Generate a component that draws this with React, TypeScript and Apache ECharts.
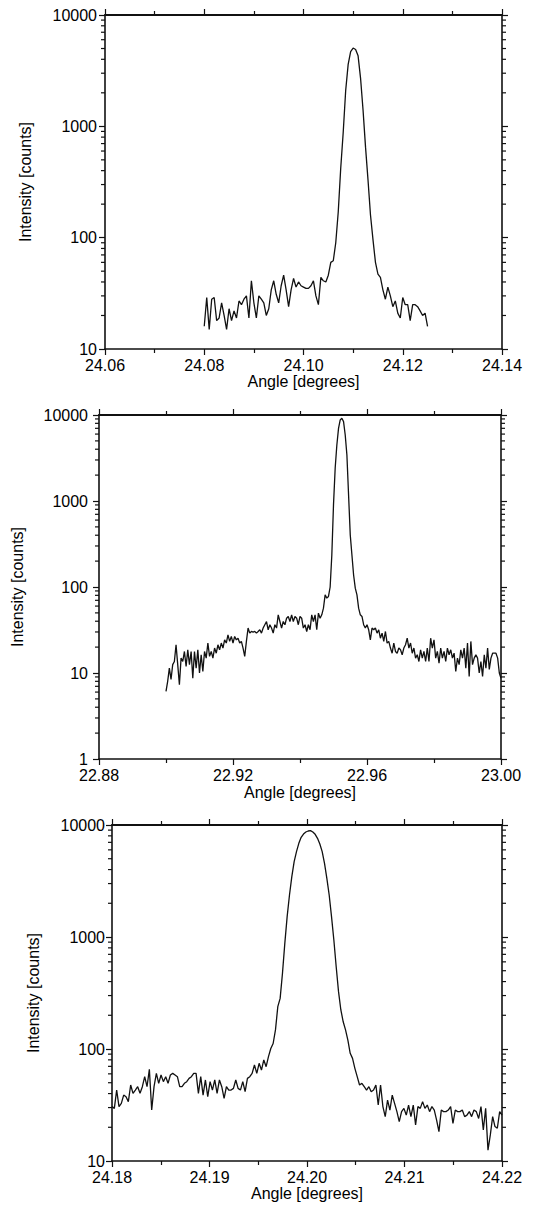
import React, { useEffect, useRef } from "react";
import * as echarts from "echarts";

// ---------- Data ----------
// Panel 1: angle 24.080 .. 24.125, step 0.0005
const P1_START = 24.08;
const P1_END = 24.125;
const P1_Y = [
  16, 29, 15, 28, 29, 18, 19, 26, 20, 15,
  23, 18, 22, 19, 27, 25, 28, 30, 19, 41,
  26, 19, 30, 28, 26, 20, 23, 34, 41, 31,
  26, 37, 46, 34, 24, 34, 43, 36, 40, 37,
  36, 35, 35, 37, 41, 30, 25, 44, 41, 40,
  46, 60, 62, 90, 170, 420, 880, 2100, 3600, 4700,
  5050, 4900, 4300, 2700, 1400, 650, 330, 160, 96, 60,
  47, 44, 34, 28, 36, 30, 24, 27, 21, 19,
  29, 25, 25, 18, 25, 25, 24, 22, 20, 21,
  16,
];

// Panel 2: angle 22.900 .. 23.000, step 0.0005
const P2_START = 22.9;
const P2_END = 23.0;
const P2_Y = [
  6.1, 8.0, 11.4, 8.4, 12.5, 13.6, 21.3, 12.5, 7.3, 14.9,
  13.6, 17.8, 11.9, 18.6, 12.5, 17.8, 8.7, 17.8, 11.4, 18.6,
  10.0, 16.3, 10.4, 17.8, 14.9, 22.3, 15.6, 17.8, 14.9, 19.5,
  17.0, 21.3, 18.6, 22.3, 19.5, 24.3, 22.3, 27.8, 23.3, 26.6,
  22.3, 26.6, 24.3, 25.4, 22.3, 23.3, 19.5, 15.6, 23.3, 33.3,
  29.1, 30.4, 29.9, 30.4, 29.1, 30.4, 31.8, 29.1, 33.3, 36.4,
  39.7, 31.8, 36.4, 33.3, 29.1, 36.4, 33.3, 47.5, 39.7, 33.3,
  39.7, 36.4, 43.4, 45.4, 39.7, 47.5, 39.7, 45.4, 43.4, 36.4,
  45.4, 43.4, 33.3, 36.4, 30.4, 36.4, 31.8, 47.5, 39.7, 47.5,
  31.8, 49.7, 43.4, 47.5, 56.8, 81, 74.2, 77.6, 100, 236,
  901, 2401, 4482, 7001, 8748, 9148, 8368, 5857, 3430, 1177,
  404, 236, 138, 97, 81, 56.8, 47.5, 45.4, 36.4, 33.3,
  36.4, 31.8, 24.3, 33.3, 31.8, 33.3, 29.1, 31.8, 25.4, 29.1,
  23.3, 30.4, 22.3, 23.3, 19.5, 17.0, 22.3, 17.8, 17.0, 19.5,
  18.6, 16.3, 19.5, 21.3, 25.4, 19.5, 22.3, 17.0, 19.5, 14.9,
  16.3, 13.6, 18.6, 14.9, 17.8, 13.6, 19.5, 13.6, 25.4, 19.5,
  24.3, 14.9, 17.8, 13.0, 19.5, 14.9, 17.8, 13.6, 19.5, 16.3,
  18.6, 14.9, 17.0, 10.4, 14.9, 12.5, 18.6, 14.9, 19.5, 11.4,
  22.3, 9.1, 23.3, 12.5, 14.9, 16.3, 14.9, 10.0, 13.6, 9.1,
  16.3, 11.4, 19.5, 11.0, 14.9, 17.0, 17.0, 17.0, 14.9, 10.0,
  8.7,
];

// Panel 3: angle 24.180 .. 24.220, evenly sampled
const P3_START = 24.18;
const P3_END = 24.22;
const P3_Y = [
  30.6, 29.5, 43.0, 30.6, 32.7, 38.8, 37.5, 33.9, 47.7, 40.2,
  43.0, 46.1, 40.2, 46.1, 56.6, 46.1, 65.8, 28.5, 46.1, 60.6,
  49.4, 58.6, 51.1, 56.6, 49.4, 58.6, 60.6, 58.6, 56.6, 46.1,
  46.1, 49.4, 51.1, 54.7, 56.6, 60.6, 60.6, 40.2, 56.6, 38.8,
  52.9, 37.5, 51.1, 43.0, 52.9, 40.2, 52.9, 46.1, 36.3, 46.1,
  43.0, 43.0, 44.5, 52.9, 44.5, 43.0, 51.1, 41.6, 54.7, 56.6,
  60.6, 72.0, 60.6, 74.5, 64.9, 79.8, 69.5, 85.4, 101, 112,
  148, 239, 283, 474, 878, 1519, 2371, 3457, 4706, 5779,
  6860, 7762, 8310, 8660, 8840, 8900, 8660, 8254, 7603, 6766,
  5779, 4548, 3341, 2371, 1519, 940, 543, 325, 223, 175,
  148, 120, 91.5, 82.5, 67.2, 56.6, 47.7, 49.4, 46.1, 43.0,
  46.1, 41.6, 43.0, 47.7, 31.6, 47.7, 30.6, 24.9, 35.0, 28.5,
  38.8, 32.7, 27.6, 22.5, 27.6, 29.5, 25.7, 31.6, 24.9, 31.6,
  21.0, 30.6, 29.5, 33.9, 29.5, 31.6, 27.6, 30.6, 28.5, 23.2,
  18.3, 28.5, 27.6, 27.6, 28.5, 30.6, 21.7, 28.5, 27.6, 27.6,
  28.5, 24.9, 25.7, 27.6, 24.9, 28.5, 27.6, 24.0, 30.6, 18.9,
  29.5, 12.5, 17.1, 24.9, 20.3, 19.6, 27.6, 25.7,
];

// Axis ranges
const X_RANGES = [
  [24.06, 24.14, 0.02],
  [22.88, 23.0, 0.04],
  [24.18, 24.22, 0.01],
];
const Y_RANGES = [
  [10, 10000],
  [1, 10000],
  [10, 10000],
];
const MINOR_MULTS = [2, 3, 4, 5, 6, 7, 8, 9];

const X_TITLE = "Angle [degrees]";
const Y_TITLE = "Intensity [counts]";

// ---------- Layout ----------
const GRIDS = [
  { left: 105, top: 15, width: 397, height: 334 },
  { left: 99, top: 415, width: 402, height: 344 },
  { left: 112, top: 825, width: 390, height: 336 },
];
const Y_NAME_GAPS = [72, 74, 71];
const Y_LABEL_MARGINS = [8, 11, 7];
const X_LABEL_MARGINS = [8, 8, 8];
const X_NAME_GAPS = [23, 25, 24];

const FONT = '"Liberation Sans", Arial, sans-serif';
const FS = 16;
const INK = "#111";

function sample(start: number, end: number, ys: number[]) {
  const n = ys.length;
  return ys.map((y, i) => [start + ((end - start) * i) / (n - 1), y]);
}

function minorValues(min: number, max: number) {
  const out: number[] = [];
  for (let d = min; d < max; d *= 10) {
    for (const m of MINOR_MULTS) out.push(d * m);
  }
  return out;
}

export default function App() {
  const ref = useRef<HTMLDivElement>(null);

  useEffect(() => {
    if (!ref.current) return;
    const chart = echarts.init(ref.current, undefined, { renderer: "svg" });
    const datasets = [
      sample(P1_START, P1_END, P1_Y),
      sample(P2_START, P2_END, P2_Y),
      sample(P3_START, P3_END, P3_Y),
    ];

    const xAxis: any[] = [];
    const yAxis: any[] = [];
    const series: any[] = [];

    GRIDS.forEach((_, i) => {
      const [xmin, xmax, xint] = X_RANGES[i];
      const [ymin, ymax] = Y_RANGES[i];
      const lineStyle = { color: INK, width: 1.6 };
      const baseX = {
        type: "value",
        gridIndex: i,
        min: xmin,
        max: xmax,
        interval: xint,
        splitLine: { show: false },
        axisLine: { show: true, lineStyle },
        axisTick: { show: true, inside: false, length: 6, lineStyle: { color: INK, width: 1.2 } },
        minorTick: { show: true, splitNumber: 2, length: 4, lineStyle: { color: INK, width: 1.2 } },
        minorSplitLine: { show: false },
      };
      xAxis.push({
        ...baseX,
        position: "bottom",
        axisLabel: {
          show: true,
          margin: X_LABEL_MARGINS[i],
          fontSize: FS,
          fontFamily: FONT,
          color: "#000",
          formatter: (v: number) => v.toFixed(2),
        },
        name: X_TITLE,
        nameLocation: "middle",
        nameGap: X_NAME_GAPS[i],
        nameTextStyle: { fontSize: FS, fontFamily: FONT, color: "#000" },
      });
      xAxis.push({
        ...baseX,
        position: "top",
        axisLabel: { show: false },
        axisLine: { show: true, lineStyle: { color: INK, width: 2 } },
      });
      const baseY = {
        type: "log",
        logBase: 10,
        gridIndex: i,
        min: ymin,
        max: ymax,
        splitLine: { show: false },
        axisLine: { show: true, lineStyle },
        axisTick: { show: true, inside: false, length: 6, lineStyle: { color: INK, width: 1.2 } },
      };
      yAxis.push({
        ...baseY,
        position: "left",
        axisLabel: {
          show: true,
          margin: Y_LABEL_MARGINS[i],
          fontSize: FS,
          fontFamily: FONT,
          color: "#000",
          formatter: (v: number) => String(Math.round(v)),
        },
        name: Y_TITLE,
        nameLocation: "middle",
        nameGap: Y_NAME_GAPS[i],
        nameTextStyle: { fontSize: FS, fontFamily: FONT, color: "#000" },
      });
      yAxis.push({
        ...baseY,
        position: "right",
        axisLabel: { show: false },
      });

      series.push({
        type: "line",
        xAxisIndex: 2 * i,
        yAxisIndex: 2 * i,
        data: datasets[i],
        showSymbol: false,
        symbol: "none",
        lineStyle: { color: INK, width: 1.3 },
        silent: true,
      });

      // log-scale minor ticks on the left and right y axes
      series.push({
        type: "custom",
        xAxisIndex: 2 * i,
        yAxisIndex: 2 * i,
        clip: false,
        silent: true,
        z: 10,
        data: minorValues(ymin, ymax).map((v) => [xmin, xmax, v]),
        encode: { x: 0, y: 2 },
        renderItem: (params: any, api: any) => {
          const v = api.value(2);
          const L = api.coord([api.value(0), v]);
          const R = api.coord([api.value(1), v]);
          const st = { stroke: INK, lineWidth: 1.2 };
          return {
            type: "group",
            children: [
              { type: "line", shape: { x1: L[0] - 4, y1: L[1], x2: L[0], y2: L[1] }, style: st },
              { type: "line", shape: { x1: R[0], y1: R[1], x2: R[0] + 4, y2: R[1] }, style: st },
            ],
          };
        },
      });
    });

    chart.setOption({
      animation: false,
      backgroundColor: "#fff",
      grid: GRIDS.map((g) => ({ ...g, containLabel: false })),
      xAxis,
      yAxis,
      series,
    });
    return () => chart.dispose();
  }, []);

  return (
    <div
      ref={ref}
      style={{ position: "fixed", left: 0, top: 0, width: 533, height: 1214, background: "#fff" }}
    />
  );
}
